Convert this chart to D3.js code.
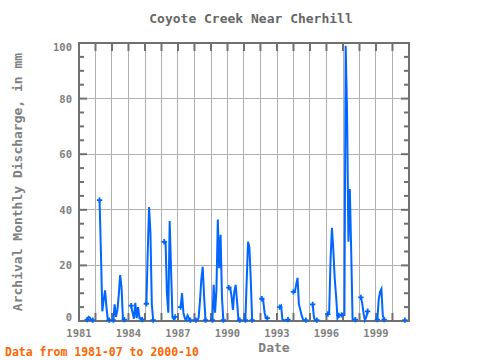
<!DOCTYPE html>
<html><head><meta charset="utf-8">
<script src="https://cdn.jsdelivr.net/npm/d3@7"></script>
<style>body{margin:0;background:#fff}svg{display:block}text{font-family:"DejaVu Sans Mono",monospace}</style>
</head><body>
<script>
// Segment start months and their consecutive monthly values (mm); gaps between segments are missing months
const segStart = ["1981-07","1982-04","1983-02","1984-03","1985-02","1986-03","1987-03","1988-02","1989-02","1990-02","1991-02","1992-02","1993-03","1994-01","1995-03","1996-02","1996-12","1998-02","1999-02","2000-10"];
const segValues = [
  [0.5,1.5,1.2,0.3,0.3],
  [43.5,25,3.5,7.5,11,5,0.3,0.3],
  [0.3,6,1.5,4,9.5,16.5,12,0.5,0.5],
  [5.5,3,0.8,6.5,1,5,1,1,0.5],
  [6.2,24,41,32,6,0.3],
  [28.5,28.5,10,3,36,18.5,1.2,0.7,1.5],
  [5,10,3,1,0.3,2,1,0.3],
  [0.3,0.3,1,7,15,19.5,9,0.3],
  [0.3,13,3,11,36.5,19,31,8.5,0.3],
  [12,12,9,4,10.5,13,7,0.3,0.3],
  [0.3,14,28.5,26.5,14.5,0.3],
  [8,7.5,3,1,1],
  [5,5.5,0.5,0.3,0.3,0.3,0.5],
  [10.5,10.5,13,15.5,6,4,2,0.5,0.3,0.3],
  [6,1,0.3,0.3],
  [2.5,3,22.5,33.5,25.5,15.5,9,1,2],
  [2.2,2.2,2.2,99,75,28.5,47.5,25.5,0.5,0.5,0.5],
  [8.5,6.5,2.8,0.3,1.5,3.5],
  [0.5,7.5,10.5,11.5,2,0.5],
  [0.3]
];
const yTicks = [0,20,40,60,80,100];
const xTickYears = [1981,1984,1987,1990,1993,1996,1999];

const W=480,H=360, L=79, R=409, T=43, B=321;
const svg = d3.select("body").append("svg").attr("width",W).attr("height",H);
const x = d3.scaleTime().domain([new Date(1981,0,1), new Date(2001,0,1)]).range([L,R]);
const y = d3.scaleLinear().domain([0,100]).range([B,T]);
const parse = d3.timeParse("%Y-%m");

const series = segStart.map((s,i)=>{
  const d0 = parse(s);
  return segValues[i].map((v,j)=>({date:d3.timeMonth.offset(d0,j), v}));
});

// grid
const years = d3.range(1982,2001).map(yr=>new Date(yr,0,1));
svg.append("g").selectAll("line").data(years).join("line")
  .attr("x1",d=>x(d)).attr("x2",d=>x(d)).attr("y1",T).attr("y2",B)
  .attr("stroke","#b0b0b0").attr("stroke-width",1).attr("shape-rendering","crispEdges");
svg.append("g").selectAll("line").data([20,40,60,80]).join("line")
  .attr("x1",L).attr("x2",R).attr("y1",d=>y(d)).attr("y2",d=>y(d))
  .attr("stroke","#b0b0b0").attr("stroke-width",1).attr("shape-rendering","crispEdges");

// ticks
const tc="#707070";
const tg=svg.append("g").attr("stroke",tc).attr("stroke-width",2);
years.forEach(d=>{
  tg.append("line").attr("x1",x(d)).attr("x2",x(d)).attr("y1",T).attr("y2",T+8);
  tg.append("line").attr("x1",x(d)).attr("x2",x(d)).attr("y1",B).attr("y2",B-8);
});
d3.range(0,101,5).forEach(v=>{
  const len = v%20===0?8:5;
  tg.append("line").attr("x1",L).attr("x2",L+len).attr("y1",y(v)).attr("y2",y(v));
  tg.append("line").attr("x1",R).attr("x2",R-len).attr("y1",y(v)).attr("y2",y(v));
});
svg.append("rect").attr("x",L).attr("y",T).attr("width",R-L).attr("height",B-T)
  .attr("fill","none").attr("stroke",tc).attr("stroke-width",2);

// data
const blue="#0066ff";
const line = d3.line().x(d=>x(d.date)).y(d=>y(d.v));
const dg = svg.append("g");
series.forEach(seg=>{
  if(seg.length>1) dg.append("path").attr("d",line(seg)).attr("fill","none").attr("stroke",blue).attr("stroke-width",2).attr("stroke-linejoin","miter");
  const ends = seg.length>1?[seg[0],seg[seg.length-1]]:[seg[0]];
  ends.forEach(p=>{
    dg.append("path").attr("d",d3.symbol(d3.symbolCross,16)())
      .attr("transform",`translate(${x(p.date)},${y(p.v)})`).attr("fill",blue);
  });
});

// labels
const lc="#808080";
svg.append("g").selectAll("text").data(yTicks).join("text")
  .attr("x",72).attr("y",d=>y(d)+4+(d===100?4:0)+(d===0?-4:0))
  .attr("text-anchor","end").attr("fill",lc).attr("font-size",10.5).attr("font-weight","bold").text(d=>d);
svg.append("g").selectAll("text").data(xTickYears).join("text")
  .attr("x",d=>x(new Date(d,0,1))).attr("y",337)
  .attr("text-anchor","middle").attr("fill",lc).attr("font-size",10.5).attr("font-weight","bold").text(d=>d);
svg.append("text").attr("x",251).attr("y",23).attr("text-anchor","middle").attr("fill","#666")
  .attr("font-size",13).attr("font-weight","bold").text("Coyote Creek Near Cherhill");
svg.append("text").attr("x",274).attr("y",352).attr("text-anchor","middle").attr("fill",lc)
  .attr("font-size",13).attr("font-weight","bold").text("Date");
svg.append("text").attr("transform","translate(21.5,182) rotate(-90)").attr("text-anchor","middle").attr("fill",lc)
  .attr("font-size",13).attr("font-weight","bold").text("Archival Monthly Discharge, in mm");
svg.append("text").attr("x",5).attr("y",356).attr("fill","#ff6600")
  .attr("font-size",11.5).attr("font-weight","bold").text("Data from 1981-07 to 2000-10");
</script>
</body></html>
